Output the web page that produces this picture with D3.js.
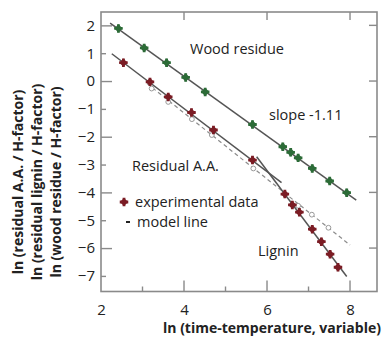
<!DOCTYPE html>
<html>
<head>
<meta charset="utf-8">
<script src="https://cdn.jsdelivr.net/npm/d3@7"></script>
<style>
  body { margin: 0; background: #fff; }
  text { font-family: "Open Sans", sans-serif; }
</style>
</head>
<body>
<div id="chart"></div>
<script>
// values
const woodX = [2.42, 3.04, 3.58, 4.04, 4.51, 5.65, 6.38, 6.57, 6.75, 7.09, 7.51, 7.92];
const woodY = [1.89, 1.19, 0.66, 0.13, -0.39, -1.56, -2.36, -2.56, -2.76, -3.14, -3.59, -4.01];
const woodLineX = [2.22, 8.15];
const woodLineY = [2.08, -4.28];

const ligninX = [2.54, 3.18, 3.62, 4.18, 4.71, 5.65, 6.43, 6.61, 6.78, 7.09, 7.31, 7.52, 7.71];
const ligninY = [0.66, -0.03, -0.57, -1.13, -1.76, -2.84, -4.06, -4.45, -4.71, -5.32, -5.77, -6.22, -6.69];
const ligninLine1X = [2.26, 6.35];
const ligninLine1Y = [0.98, -3.65];
const ligninLine2X = [5.75, 7.92];
const ligninLine2Y = [-2.72, -7.02];

const modelX = [3.22, 3.62, 4.19, 4.67, 5.67, 6.75, 7.08, 7.48];
const modelY = [-0.27, -0.75, -1.37, -1.94, -3.14, -4.48, -4.80, -5.27];
const modelLineX = [3.11, 8.0];
const modelLineY = [-0.09, -5.89];

const xTicks = [2, 4, 6, 8];
const yTicks = [2, 1, 0, -1, -2, -3, -4, -5, -6, -7];

const W = 383, H = 337;
const svg = d3.select("#chart").append("svg")
  .attr("width", W).attr("height", H);

const x = d3.scaleLinear().domain([2, 8.65]).range([101, 377]);
const y = d3.scaleLinear().domain([2.48, -7.56]).range([12, 291.5]);

const frameColor = "#8a8a8a";
const zip = (xs, ys) => xs.map((v, i) => ({ x: v, y: ys[i] }));

// frame
svg.append("rect")
  .attr("x", x(2)).attr("y", y(2.48))
  .attr("width", x(8.65) - x(2)).attr("height", y(-7.56) - y(2.48))
  .attr("fill", "none").attr("stroke", frameColor).attr("stroke-width", 1.6);

// left axis (inward ticks)
const yAxis = svg.append("g")
  .attr("transform", `translate(${x(2)},0)`)
  .call(d3.axisLeft(y).tickValues(yTicks).tickFormat(d3.format("d")).tickSize(0).tickPadding(6));
yAxis.select(".domain").remove();
yAxis.selectAll("text").style("font-size", "15px").attr("fill", "#222");
yAxis.selectAll(".tick").append("line")
  .attr("x1", 0).attr("x2", d => d % 2 === 0 ? 11 : 5)
  .attr("stroke", frameColor).attr("stroke-width", 1.4);

// bottom axis
const xAxis = svg.append("g")
  .attr("transform", `translate(0,${y(-7.56)})`)
  .call(d3.axisBottom(x).tickValues(xTicks).tickFormat(d3.format("d")).tickSize(0).tickPadding(13));
xAxis.select(".domain").remove();
xAxis.selectAll("text").style("font-size", "15px").attr("fill", "#222");
svg.append("g").selectAll("line")
  .data([3, 4, 5, 6, 7, 8])
  .join("line")
    .attr("x1", d => x(d)).attr("x2", d => x(d))
    .attr("y1", y(-7.56)).attr("y2", d => y(-7.56) - (d % 2 === 0 ? 11 : 5))
    .attr("stroke", frameColor).attr("stroke-width", 1.4);

// top and right ticks
svg.append("g").selectAll("line")
  .data([4, 6, 8])
  .join("line")
    .attr("x1", d => x(d)).attr("x2", d => x(d))
    .attr("y1", y(2.48)).attr("y2", y(2.48) + 8)
    .attr("stroke", frameColor).attr("stroke-width", 1.4);
svg.append("g").selectAll("line")
  .data([2, 0, -2, -4, -6])
  .join("line")
    .attr("y1", d => y(d)).attr("y2", d => y(d))
    .attr("x1", x(8.65)).attr("x2", x(8.65) - 8)
    .attr("stroke", frameColor).attr("stroke-width", 1.4);

// lines
const line = d3.line().x(d => x(d.x)).y(d => y(d.y));

svg.append("path")
  .attr("d", line(zip(modelLineX, modelLineY)))
  .attr("fill", "none").attr("stroke", "#8c8c8c")
  .attr("stroke-width", 1.2).attr("stroke-dasharray", "4,3");

svg.selectAll(".model")
  .data(zip(modelX, modelY))
  .join("circle")
    .attr("class", "model")
    .attr("cx", d => x(d.x)).attr("cy", d => y(d.y))
    .attr("r", 2.4)
    .attr("fill", "#fff").attr("stroke", "#999").attr("stroke-width", 1);

[[woodLineX, woodLineY], [ligninLine1X, ligninLine1Y], [ligninLine2X, ligninLine2Y]]
  .forEach(([lx, ly]) => {
    svg.append("path")
      .attr("d", line(zip(lx, ly)))
      .attr("fill", "none").attr("stroke", "#555")
      .attr("stroke-width", 1.5);
  });

// markers: rotated square with a cross on top
const cross = d3.symbol(d3.symbolCross, 40)();
const square = d3.symbol(d3.symbolSquare, 34)();

function marker(sel, color) {
  sel.append("path").attr("d", square).attr("transform", "rotate(45)").attr("fill", color);
  sel.append("path").attr("d", cross).attr("fill", color);
}
function markers(data, color) {
  const g = svg.append("g").selectAll("g")
    .data(data)
    .join("g")
      .attr("transform", d => `translate(${x(d.x)},${y(d.y)})`);
  marker(g, color);
}
markers(zip(woodX, woodY), "#2c6b37");
markers(zip(ligninX, ligninY), "#7b1c24");

// annotations
const note = (tx, ty, s, anchor = "start") =>
  svg.append("text").attr("x", tx).attr("y", ty)
    .attr("text-anchor", anchor)
    .style("font-size", "14.5px").attr("fill", "#222").text(s);

note(190, 54, "Wood residue");
note(269, 120, "slope -1.11");
note(132, 171, "Residual A.A.");
note(258, 256, "Lignin");
note(135, 207, "experimental data");
note(137, 227, "model line");

// legend marks
marker(svg.append("g").attr("transform", "translate(124,202)"), "#7b1c24");
svg.append("rect").attr("x", 126).attr("y", 221).attr("width", 4).attr("height", 2).attr("fill", "#222");

// axis titles
svg.append("text")
  .attr("x", 272).attr("y", 333)
  .attr("text-anchor", "middle")
  .style("font-size", "14px").style("font-weight", "bold").attr("fill", "#222")
  .text("ln (time-temperature, variable)");

const yTitles = ["ln (residual A.A. / H-factor)", "ln (residual lignin / H-factor)", "ln (wood residue / H-factor)"];
svg.selectAll(".ytitle")
  .data(yTitles)
  .join("text")
    .attr("class", "ytitle")
    .attr("transform", (d, i) => `translate(${23 + i * 19},182) rotate(-90)`)
    .attr("text-anchor", "middle")
    .style("font-size", "14px").style("font-weight", "bold").attr("fill", "#222")
    .text(d => d);
</script>
</body>
</html>
